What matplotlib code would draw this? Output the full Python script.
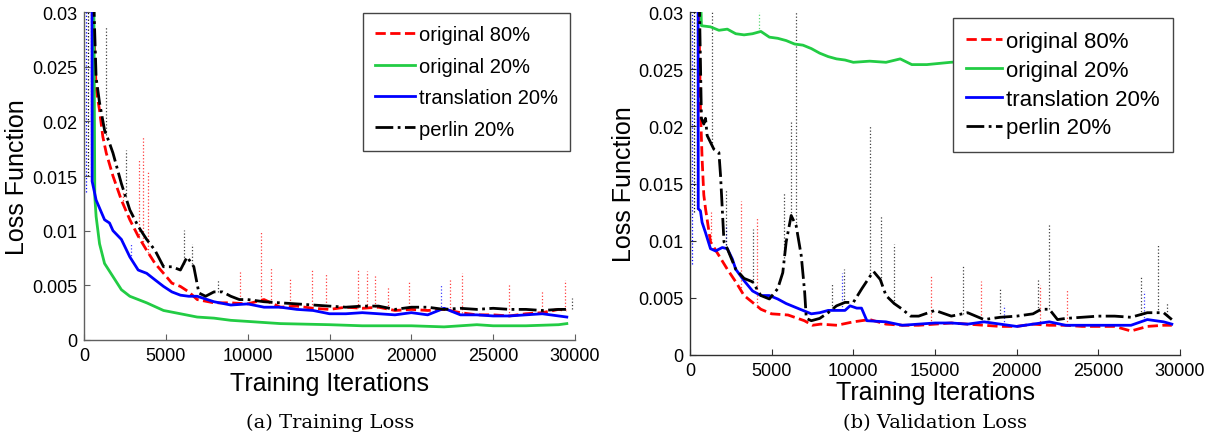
import numpy as np
import matplotlib
matplotlib.use('Agg')
from matplotlib import pyplot as plt

plt.rcParams['font.family'] = ['Liberation Sans', 'DejaVu Sans']

# ---- training loss (left panel) ----
tr_red_it = [530, 640, 740, 950, 1150, 1360, 1770, 2285, 2800, 3310, 3830, 4340, 4860, 5370, 5890, 6400, 6915, 7940, 8970, 10000,
             11000, 12000, 13000, 14000, 15000, 16000, 17000, 18000, 19000, 20000, 21000, 22000, 23000, 24000, 25000, 26000,
             27000, 28000, 29000, 29500]
tr_red = [0.032, 0.027, 0.023, 0.021, 0.0186, 0.0171, 0.0150, 0.0128, 0.0110, 0.0095, 0.0082, 0.0070, 0.0061, 0.0052, 0.0049,
          0.0044, 0.0037, 0.0034, 0.0034, 0.0033, 0.0037, 0.0030, 0.0031, 0.0029, 0.0028, 0.0030, 0.0029, 0.0030, 0.0027,
          0.0028, 0.0027, 0.0028, 0.0025, 0.0023, 0.0023, 0.0022, 0.0024, 0.0025, 0.0028, 0.0027]

tr_green_it = [600, 660, 740, 950, 1255, 1770, 2285, 2800, 3830, 4860, 5890, 6915, 7940, 8970, 10000, 12000, 15000, 17000,
               20000, 22000, 24000, 25000, 27000, 29000, 29500]
tr_green = [0.032, 0.0131, 0.0113, 0.0088, 0.0070, 0.0058, 0.0046, 0.0040, 0.0034, 0.0027, 0.0024, 0.0021, 0.0020, 0.0018,
            0.0017, 0.0015, 0.0014, 0.0013, 0.0013, 0.0012, 0.0014, 0.0013, 0.0013, 0.0014, 0.0015]

tr_blue_it = [490, 500, 740, 1255, 1560, 1770, 2285, 2800, 3310, 3830, 4340, 4860, 5370, 5890, 6400, 6915, 7940, 8970, 10000,
              11000, 12000, 13000, 14000, 15000, 16000, 17000, 18000, 19000, 20000, 21000, 22000, 23000, 24000, 25000,
              26000, 27000, 28000, 29000, 29500]
tr_blue = [0.032, 0.0145, 0.0128, 0.0110, 0.0107, 0.0100, 0.0092, 0.0076, 0.0064, 0.0061, 0.0055, 0.0049, 0.0044, 0.0041,
           0.0040, 0.0040, 0.0035, 0.0032, 0.0033, 0.0030, 0.0030, 0.0028, 0.0027, 0.0024, 0.0024, 0.0025, 0.0024, 0.0023,
           0.0025, 0.0023, 0.0029, 0.0023, 0.0023, 0.0022, 0.0022, 0.0023, 0.0024, 0.0022, 0.0021]

tr_black_it = [575, 740, 950, 1255, 1560, 1770, 2285, 2800, 3310, 3830, 4340, 4860, 5370, 5890, 6300, 6710, 7020, 7430, 7940,
               8460, 8970, 9490, 10000, 11000, 12000, 13000, 14000, 15000, 16000, 17000, 18000, 19000, 20000, 21000, 22000,
               23000, 24000, 25000, 26000, 27000, 28000, 29000, 29500]
tr_black = [0.032, 0.024, 0.0217, 0.0192, 0.0180, 0.0171, 0.0143, 0.0119, 0.0104, 0.0092, 0.0082, 0.0067, 0.0067, 0.0064,
            0.0076, 0.0067, 0.0043, 0.0040, 0.0044, 0.0044, 0.0040, 0.0037, 0.0037, 0.0035, 0.0034, 0.0033, 0.0032, 0.0031,
            0.0030, 0.0031, 0.0031, 0.0028, 0.0030, 0.0030, 0.0028, 0.0029, 0.0028, 0.0029, 0.0028, 0.0028, 0.0027, 0.0028,
            0.0028]

# raw-trace spikes (iteration, peak)
tr_red_spk_it = [2400, 3370, 3620, 3930, 9550, 10790, 11420, 12600, 13920, 14790, 16730, 17300, 17800, 18600, 19840, 22350,
                 23100, 25970, 28000, 29370]
tr_red_spk = [0.0135, 0.0165, 0.0186, 0.0154, 0.0064, 0.0100, 0.0067, 0.0057, 0.0064, 0.0061, 0.0064, 0.0063, 0.0060,
              0.0049, 0.0053, 0.0056, 0.0061, 0.0052, 0.0046, 0.0055]
tr_black_spk_it = [1360, 2550, 6080, 6600, 8200, 29800]
tr_black_spk = [0.0287, 0.0174, 0.0101, 0.0088, 0.0056, 0.0038]
tr_blue_spk_it = [2900, 21800]
tr_blue_spk = [0.0088, 0.0050]
tr_green_spk_it = []
tr_green_spk = []

# ---- validation loss (right panel) ----
va_red_it = [520, 640, 740, 845, 950, 1255, 1770, 2285, 2800, 3310, 3830, 4340, 5000, 6000, 7000, 7500, 8000, 9000, 10000,
             11000, 12000, 13000, 14000, 15000, 16000, 17000, 18000, 19000, 20000, 21000, 22000, 23000, 24000, 25000,
             26000, 27000, 28000, 29000, 29500]
va_red = [0.032, 0.0215, 0.0172, 0.0140, 0.0128, 0.0099, 0.0087, 0.0075, 0.0064, 0.0052, 0.0046, 0.0040, 0.0036, 0.0035,
          0.0030, 0.0026, 0.0027, 0.0026, 0.0029, 0.0031, 0.0027, 0.0026, 0.0026, 0.0027, 0.0028, 0.0027, 0.0026, 0.0025,
          0.0025, 0.0027, 0.0026, 0.0026, 0.0025, 0.0025, 0.0025, 0.0021, 0.0025, 0.0026, 0.0026]

va_green_it = [640, 700, 1255, 1770, 2285, 2800, 3310, 3830, 4340, 4860, 5370, 5890, 6400, 6915, 7430, 7940, 8460, 8970,
               9490, 10000, 11000, 12000, 12870, 13580, 14500, 15950, 18000, 20000, 22000, 24000, 26000, 28000, 29500]
va_green = [0.032, 0.0288, 0.0287, 0.0284, 0.0285, 0.0281, 0.0280, 0.0281, 0.0283, 0.0278, 0.0277, 0.0275, 0.0272, 0.0271,
            0.0268, 0.0264, 0.0261, 0.0259, 0.0258, 0.0256, 0.0257, 0.0256, 0.0259, 0.0254, 0.0254, 0.0256, 0.0258, 0.0261,
            0.0264, 0.0267, 0.0270, 0.0272, 0.0274]

va_blue_it = [495, 505, 640, 740, 950, 1255, 1560, 1975, 2285, 2590, 2800, 3310, 3830, 4340, 4860, 5370, 5890, 6400, 6915,
              7430, 7940, 8460, 8970, 9490, 9800, 10210, 10500, 10830, 12000, 13000, 14000, 15000, 16000, 17000, 18000,
              19000, 20000, 21000, 22000, 23000, 24000, 25000, 26000, 27000, 28000, 29000, 29500]
va_blue = [0.032, 0.0128, 0.0126, 0.0116, 0.0107, 0.0093, 0.0091, 0.0094, 0.0093, 0.0084, 0.0075, 0.0065, 0.0056, 0.0052,
           0.0052, 0.0049, 0.0045, 0.0042, 0.0039, 0.0036, 0.0037, 0.0039, 0.0039, 0.0039, 0.0043, 0.0041, 0.0041, 0.0030,
           0.0029, 0.0026, 0.0027, 0.0028, 0.0028, 0.0027, 0.0029, 0.0027, 0.0025, 0.0027, 0.0029, 0.0026, 0.0026, 0.0026,
           0.0026, 0.0026, 0.0031, 0.0029, 0.0027]

va_black_it = [560, 700, 845, 950, 1050, 1255, 1460, 1770, 1870, 1975, 2080, 2285, 2800, 3310, 3830, 4340, 4860, 5370, 5680,
               5890, 6195, 6500, 6810, 7020, 7120, 7430, 7940, 8460, 8970, 9490, 10000, 10520, 11030, 11240, 11650, 12000,
               12500, 13000, 13500, 14000, 15000, 16000, 17000, 18000, 19000, 20000, 21000, 21500, 22000, 22500, 23000,
               24000, 25000, 26000, 27000, 28000, 29000, 29500]
va_black = [0.032, 0.0207, 0.0202, 0.0207, 0.0192, 0.0186, 0.0180, 0.0177, 0.0157, 0.0128, 0.0099, 0.0093, 0.0075, 0.0067,
            0.0064, 0.0052, 0.0049, 0.0058, 0.0072, 0.0099, 0.0122, 0.0113, 0.0087, 0.0055, 0.0032, 0.0030, 0.0032, 0.0037,
            0.0043, 0.0046, 0.0046, 0.0058, 0.0069, 0.0073, 0.0066, 0.0052, 0.0045, 0.0040, 0.0034, 0.0034, 0.0039, 0.0034,
            0.0037, 0.0031, 0.0033, 0.0034, 0.0036, 0.0040, 0.0040, 0.0031, 0.0032, 0.0033, 0.0034, 0.0034, 0.0033, 0.0037,
            0.0037, 0.0031]

va_red_spk_it = [1300, 3150, 4100, 14760, 17800, 21400, 23100]
va_red_spk = [0.0125, 0.0135, 0.0120, 0.0069, 0.0065, 0.0061, 0.0058]
va_black_spk_it = [1360, 2180, 3860, 5780, 6195, 6500, 8700, 9430, 10990, 11690, 12510, 16730, 19000, 21300, 21950, 27600,
                   28680, 29200]
va_black_spk = [0.030, 0.0144, 0.0110, 0.0142, 0.0204, 0.030, 0.0063, 0.0075, 0.0201, 0.0122, 0.0097, 0.0078, 0.0058,
                0.0067, 0.0115, 0.0069, 0.0097, 0.0046]
va_blue_spk_it = [2180, 9310, 19200, 27800]
va_blue_spk = [0.0113, 0.0072, 0.0044, 0.0056]
va_green_spk_it = [4200]
va_green_spk = [0.030]

# dotted start-up traces before the first logged average
start_it = [120, 260, 400]
tr_start_low = [0.0135, 0.0150, 0.0145]
va_start_low = [0.0080, 0.0125, 0.0128]

labels = ['original 80%', 'original 20%', 'translation 20%', 'perlin 20%']
colors = ['#ff0000', '#22cc44', '#0000ff', '#000000']
styles = ['--', '-', '-', '-.']

yticks = [0, 0.005, 0.01, 0.015, 0.02, 0.025, 0.03]
xticks = [0, 5000, 10000, 15000, 20000, 25000, 30000]

fig = plt.figure(figsize=(12.17, 4.39), dpi=100)
ax1 = fig.add_axes([84 / 1217, 1 - 341 / 439, 491 / 1217, 328 / 439])
ax2 = fig.add_axes([690 / 1217, 1 - 356 / 439, 490 / 1217, 343 / 439])


def draw(ax, series, spikes, start_low, spine_col, leg_fs, leg_space, leg_hl, leg_anchor):
    # raw traces: thin dotted spikes
    for (it, v), (sit, sv), col in zip(series, spikes, colors):
        if len(sit):
            base = np.interp(sit, it, v)
            ax.vlines(sit, base, sv, colors=col, linestyles=':', linewidth=0.9, alpha=0.75)
    for k, x in enumerate(start_it):
        ax.vlines(x, start_low[k], 0.03, colors=colors[[2, 3, 0][k]], linestyles=':', linewidth=0.9)
    # smoothed curves
    handles = []
    for (it, v), col, ls, lab in zip(series, colors, styles, labels):
        h, = ax.plot(it, v, color=col, linestyle=ls, linewidth=2.0, label=lab)
        handles.append(h)
    ax.set_xlim(0, 30000)
    ax.set_ylim(0, 0.03)
    ax.set_xticks(xticks)
    ax.set_xticklabels([str(t) for t in xticks])
    ax.set_yticks(yticks)
    ax.set_yticklabels(['%g' % t for t in yticks])
    ax.tick_params(direction='in', length=4, width=0.8, color=spine_col, labelsize=13, pad=5)
    for s in ['top', 'right']:
        ax.spines[s].set_visible(False)
    for s in ['left', 'bottom']:
        ax.spines[s].set_color(spine_col)
        ax.spines[s].set_linewidth(1.0)
    ax.set_ylabel('Loss Function', fontsize=18)
    ax.set_xlabel('Training Iterations', fontsize=18)
    leg = ax.legend(handles=handles, loc='upper right', bbox_to_anchor=leg_anchor, borderaxespad=0,
                    fontsize=leg_fs, labelspacing=leg_space, handlelength=leg_hl, handletextpad=0.2,
                    fancybox=False, framealpha=1, edgecolor='#444444', borderpad=0.6)
    leg.get_frame().set_linewidth(1.0)


draw(ax1,
     [(tr_red_it, tr_red), (tr_green_it, tr_green), (tr_blue_it, tr_blue), (tr_black_it, tr_black)],
     [(tr_red_spk_it, tr_red_spk), (tr_green_spk_it, tr_green_spk), (tr_blue_spk_it, tr_blue_spk),
      (tr_black_spk_it, tr_black_spk)],
     tr_start_low, '#606060', 14.5, 0.62, 2.0, (0.99, 0.997))
draw(ax2,
     [(va_red_it, va_red), (va_green_it, va_green), (va_blue_it, va_blue), (va_black_it, va_black)],
     [(va_red_spk_it, va_red_spk), (va_green_spk_it, va_green_spk), (va_blue_spk_it, va_blue_spk),
      (va_black_spk_it, va_black_spk)],
     va_start_low, '#303030', 16, 0.35, 1.6, (0.986, 0.983))

ax1.yaxis.set_label_coords(-0.112, 0.5)
ax1.xaxis.set_label_coords(0.5, -0.095)
ax2.yaxis.set_label_coords(-0.110, 0.5)
ax2.xaxis.set_label_coords(0.5, -0.072)

fig.text(330 / 1217, 1 - 423 / 439, '(a) Training Loss', ha='center', va='center', family='DejaVu Serif', fontsize=14)
fig.text(935 / 1217, 1 - 423 / 439, '(b) Validation Loss', ha='center', va='center', family='DejaVu Serif', fontsize=14)

fig.savefig('out.png', dpi=100)
